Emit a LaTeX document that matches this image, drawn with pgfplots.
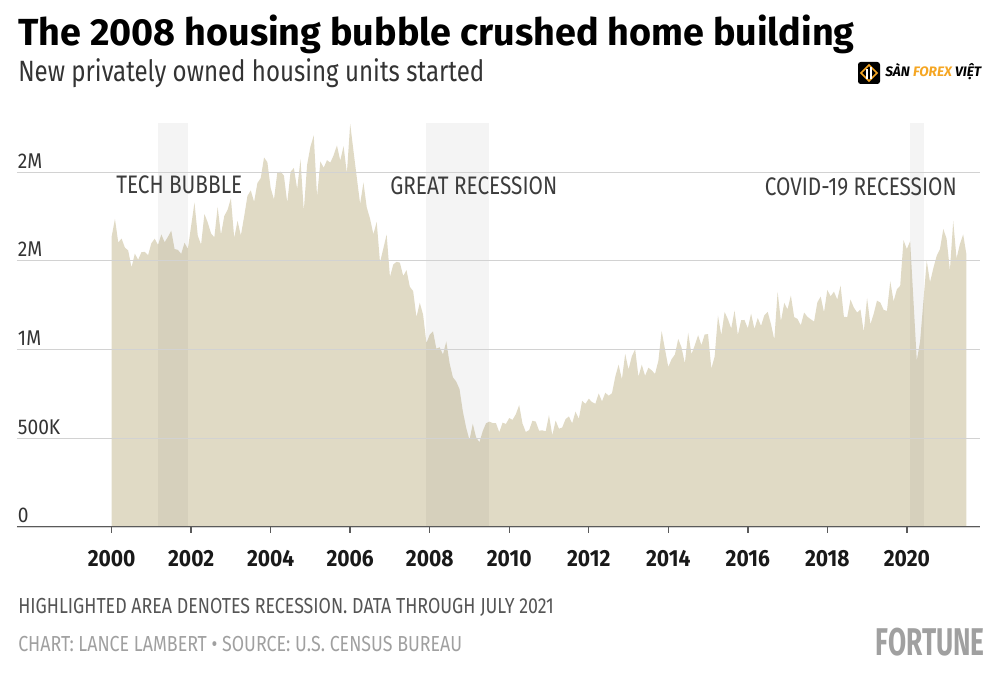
\documentclass[border=0pt]{standalone}
\usepackage{pgfplots}
\pgfplotsset{compat=1.18}
\usepackage{pgfplotstable}
\usepackage{fontspec}
\setmainfont{Fira Sans}
\newfontfamily\cond{Fira Sans}[FakeStretch=0.82]
\newfontfamily\ticks{Fira Sans}[FakeStretch=0.9]
\newfontfamily\fort{Fira Sans}[FakeStretch=0.68]
\definecolor{areac}{RGB}{224,218,197}
\definecolor{txt}{RGB}{60,60,60}
\definecolor{foot}{RGB}{85,85,85}
\definecolor{foot2}{RGB}{160,160,160}
\definecolor{gridc}{RGB}{210,210,210}
\definecolor{axc}{RGB}{90,90,90}
\definecolor{orangelogo}{RGB}{245,166,35}

\pgfplotstableread{
v
1636
1737
1604
1626
1575
1559
1463
1541
1507
1549
1551
1532
1600
1625
1590
1649
1605
1636
1670
1567
1562
1540
1602
1568
1698
1829
1642
1592
1764
1717
1655
1633
1804
1648
1753
1788
1853
1629
1726
1643
1751
1867
1897
1833
1939
1967
2083
2057
1911
1846
1998
2003
1981
1828
2002
2024
1905
2072
1782
2042
2144
2207
1864
2061
2025
2068
2054
2095
2151
2065
2147
1994
2273
2119
1969
1821
1942
1802
1737
1650
1720
1491
1570
1649
1409
1480
1495
1490
1415
1448
1354
1330
1183
1264
1197
1037
1084
1103
1005
1013
973
1046
923
844
820
777
652
560
490
582
505
478
540
585
594
586
585
534
588
581
614
604
636
687
583
536
546
599
594
543
545
539
630
517
600
554
561
608
623
585
650
610
711
694
723
704
695
753
708
757
740
754
847
915
833
976
888
962
1002
847
915
852
898
883
863
936
1105
1003
902
946
972
1060
1012
922
1095
974
1024
1081
1025
1086
1087
893
961
1192
1081
1212
1171
1119
1220
1083
1166
1167
1120
1203
1116
1178
1134
1194
1213
1143
1056
1326
1160
1263
1227
1305
1183
1173
1137
1209
1185
1171
1158
1267
1299
1210
1336
1300
1327
1282
1361
1185
1183
1282
1237
1209
1226
1100
1291
1142
1202
1276
1265
1224
1218
1385
1272
1340
1360
1617
1567
1611
1277
938
1046
1273
1501
1380
1459
1528
1567
1680
1625
1447
1725
1514
1594
1650
1534
}\housing

\begin{document}
\begin{tikzpicture}[x=0.75pt,y=0.75pt]
\path[use as bounding box] (0,0) rectangle (1000,677);

% Title and subtitle
\node[anchor=base west, inner sep=0, font=\bfseries\fontsize{28.3}{28.3}\selectfont, text=black] at (18,631) {The 2008 housing bubble crushed home building};
\node[anchor=base west, inner sep=0, font=\cond\fontsize{22}{22}\selectfont, text=black!80] at (18,595) {New privately owned housing units started};

% logo
\fill[black, rounded corners=2pt] (858,593) rectangle (880,615);
\draw[orangelogo, line width=1.2pt] (861,604) -- (869,612) -- (877,604) -- (869,596) -- cycle;
\draw[white, line width=1pt] (867,598) -- (867,608) (871,598) -- (871,610);
\node[anchor=base west, inner sep=0, font=\bfseries\itshape\fontsize{10.3}{10.3}\selectfont] at (885,600) {S\`AN \textcolor{orangelogo}{FOREX} VI\d{\^E}T};

\begin{axis}[
  at={(12.75pt,112.5pt)}, anchor=south west,
  scale only axis,
  width=722.25pt, height=306pt,
  xmin=1997.62, xmax=2021.84,
  ymin=0, ymax=2300,
  axis line style={draw=none},
  axis on top,
  ymajorgrids,
  major grid style={draw=gridc, line width=0.7pt},
  xtick={2000,2002,...,2020},
  xticklabels={2000,2002,2004,2006,2008,2010,2012,2014,2016,2018,2020},
  ytick={0,500,1000,1500,2000},
  yticklabels={0,500K,1M,2M,2M},
  tick align=outside,
  xtick pos=bottom,
  major tick length=4.5pt,
  xtick style={draw=axc, line width=1.1pt},
  ytick style={draw=none},
  xticklabel style={font=\ticks\bfseries\fontsize{17.5}{17.5}\selectfont, text=black!90, anchor=base, yshift=-25pt},
  yticklabel style={font=\ticks\fontsize{16}{16}\selectfont, text=black!80, anchor=base west, inner sep=0pt, xshift=5pt, yshift=3pt},
  clip=false,
]
\addplot[fill=areac, draw=none] table[x expr=2000+\coordindex/12, y=v] {\housing} \closedcycle;
\fill[black, fill opacity=0.045] (axis cs:2001.167,0) rectangle (axis cs:2001.917,2280);
\fill[black, fill opacity=0.045] (axis cs:2007.917,0) rectangle (axis cs:2009.5,2280);
\fill[black, fill opacity=0.045] (axis cs:2020.083,0) rectangle (axis cs:2020.42,2280);
\draw[axc, line width=1.4pt] (rel axis cs:0,0) -- (rel axis cs:1,0);
\end{axis}

% annotations
\node[anchor=base west, inner sep=0, font=\cond\fontsize{19}{19}\selectfont, text=txt] at (116,483) {TECH BUBBLE};
\node[anchor=base west, inner sep=0, font=\cond\fontsize{19}{19}\selectfont, text=txt] at (390,482) {GREAT RECESSION};
\node[anchor=base east, inner sep=0, font=\cond\fontsize{19}{19}\selectfont, text=txt] at (957,481) {COVID-19 RECESSION};

% footer
\node[anchor=base west, inner sep=0, font=\cond\fontsize{16.3}{16.3}\selectfont, text=foot] at (18,63) {HIGHLIGHTED AREA DENOTES RECESSION. DATA THROUGH JULY 2021};
\node[anchor=base west, inner sep=0, font=\cond\fontsize{16.3}{16.3}\selectfont, text=foot2] at (18,25) {CHART: LANCE LAMBERT \textbullet{} SOURCE: U.S. CENSUS BUREAU};
\node[anchor=base east, inner sep=0, font=\fort\bfseries\fontsize{29}{29}\selectfont, text=foot2] at (985,21) {FORTUNE};
\end{tikzpicture}
\end{document}
